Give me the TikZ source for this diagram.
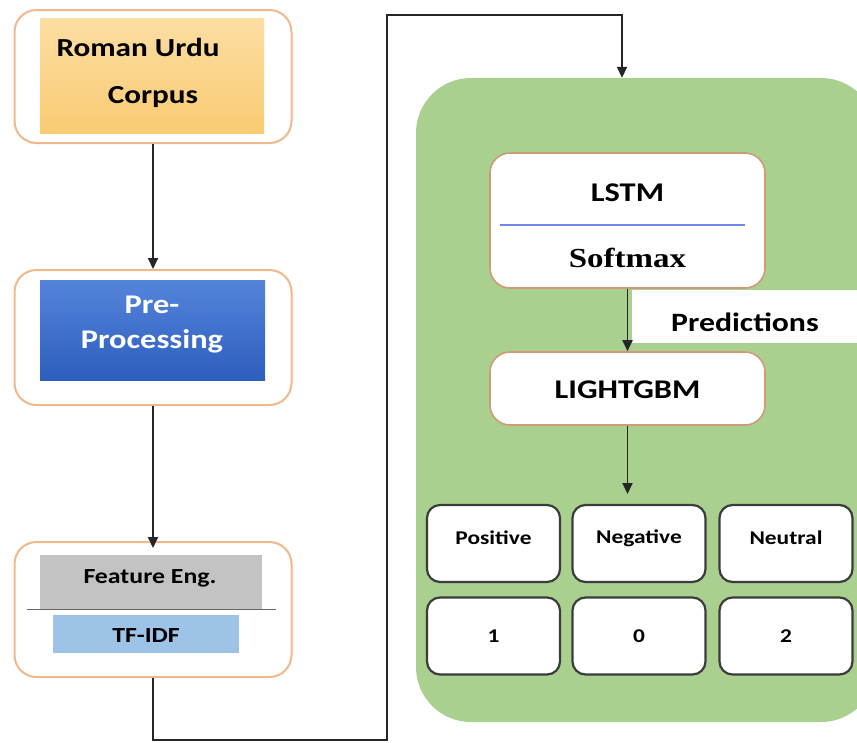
\documentclass[tikz,border=0pt]{standalone}
\usepackage{fontspec}
\usepackage{graphicx}
\setmainfont{Carlito}
\newfontfamily\serifbold{Liberation Serif}
\usetikzlibrary{arrows.meta}
\definecolor{peach}{HTML}{F1B88C}
\definecolor{corpustop}{HTML}{FCDDA3}
\definecolor{corpusbot}{HTML}{F9CB72}
\definecolor{preptop}{HTML}{5484DA}
\definecolor{prepbot}{HTML}{2E5EBE}
\definecolor{featgray}{HTML}{C3C3C3}
\definecolor{tfidfblue}{HTML}{9DC3E6}
\definecolor{panelgreen}{HTML}{A9D08E}
\definecolor{cellborder}{HTML}{3C3C3C}
\newcommand{\wtxt}[2]{\scalebox{1.2}[1]{\fontsize{#1}{#1}\selectfont\bfseries #2}}
\tikzset{
  outerbox/.style={draw=peach, line width=2pt, fill=white, rounded corners=22pt, minimum width=277pt},
  modelbox/.style={draw=peach!85!black, line width=1.6pt, fill=white, rounded corners=20pt, minimum width=275pt},
  cellbox/.style={draw=cellborder, line width=2.2pt, fill=white, rounded corners=13pt, minimum width=133pt, minimum height=77pt},
  flow/.style={line width=1.8pt, draw=black!85, -{Triangle[length=11pt,width=10pt]}},
  lbl/.style={inner sep=0pt, text=black}
}
\begin{document}
\begin{tikzpicture}[x=1pt,y=-1pt]
\useasboundingbox (0,0) rectangle (857,742);
\fill[white] (0,0) rectangle (857,742);

% left column: corpus
\node[outerbox, minimum height=133pt] (corpus) at (153,76.5) {};
\node[top color=corpustop, bottom color=corpusbot, minimum width=224pt, minimum height=115pt, inner sep=0pt] (corpusin) at (152,75.5) {};
\node[lbl] (t1) at (138,47) {\wtxt{26pt}{Roman Urdu}};
\node[lbl] (t2) at (153,97) {\wtxt{26pt}{Corpus}};

% pre-processing
\node[outerbox, minimum height=135pt] (prep) at (153,337.5) {};
\node[top color=preptop, bottom color=prepbot, minimum width=225pt, minimum height=100pt, inner sep=0pt] (prepin) at (152.5,330) {};
\node[lbl, text=white] (t3) at (152,305) {\wtxt{27pt}{Pre-}};
\node[lbl, text=white] (t4) at (152,341) {\wtxt{27pt}{Processing}};

% feature engineering
\node[outerbox, minimum height=135pt] (feat) at (153,609.5) {};
\node[fill=featgray, minimum width=222pt, minimum height=55pt, inner sep=0pt] (featin) at (151,582.5) {};
\draw[black!60, line width=1pt] (27,609) -- (276,609);
\node[fill=tfidfblue, minimum width=186pt, minimum height=38pt, inner sep=0pt] (tfidf) at (146,634) {};
\node[lbl] (t5) at (150,578) {\wtxt{21.5pt}{Feature Eng.}};
\node[lbl] (t6) at (146,636) {\wtxt{21.5pt}{TF-IDF}};

\draw[flow] (corpus.south) -- (prep.north);
\draw[flow] (prep.south) -- ([yshift=-7pt]feat.north);

% model panel
\node[fill=panelgreen, rounded corners=55pt, minimum width=460pt, minimum height=644pt, inner sep=0pt] (panel) at (646,400) {};

\node[modelbox, minimum height=135pt] (lstm) at (627.5,220.5) {};
\node[lbl] (t7) at (627.5,193) {\wtxt{27pt}{LSTM}};
\draw[color=tfidfblue!70!blue, line width=1.2pt] (500,225) -- (745,225);
\node[lbl] (t8) at (627.5,258) {\scalebox{1.2}[1]{\fontsize{27.5pt}{27.5pt}\selectfont\serifbold\bfseries Softmax}};

\node[fill=white, minimum width=225pt, minimum height=53pt, inner sep=0pt] (predbox) at (744.5,316.5) {};
\node[lbl] (t9) at (745,322) {\wtxt{26.5pt}{Predictions}};

\node[modelbox, minimum height=73pt] (gbm) at (627.5,388.5) {};
\node[lbl] (t10) at (627.5,390) {\wtxt{27pt}{LIGHTGBM}};

\coordinate (rowtop) at (627.5,494);
\draw[flow] (lstm.south) -- (gbm.north);
\draw[flow] (gbm.south) -- (rowtop);

% sentiment classes and their codes
\node[cellbox] (pos) at (493.5,543.5) {};
\node[cellbox] (neg) at (639,543.5) {};
\node[cellbox] (neu) at (786,543.5) {};
\node[cellbox] (one) at (493.5,636) {};
\node[cellbox] (zero) at (639,636) {};
\node[cellbox] (two) at (786,636) {};
\node[lbl] at (493.5,538) {\wtxt{19.5pt}{Positive}};
\node[lbl] at (639,538) {\wtxt{19.5pt}{Negative}};
\node[lbl] at (786,538) {\wtxt{19.5pt}{Neutral}};
\node[lbl] at (493.5,636) {\wtxt{19.5pt}{1}};
\node[lbl] at (639,636) {\wtxt{19.5pt}{0}};
\node[lbl] at (786,636) {\wtxt{19.5pt}{2}};

% long connector from the features into the model panel
\coordinate (c1) at (153,740);
\coordinate (c2) at (387,740);
\coordinate (c3) at (387,15);
\coordinate (c4) at (622,15);
\draw[flow] (feat.south) -- (c1) -- (c2) -- (c3) -- (c4) -- (c4 |- panel.north);
\end{tikzpicture}
\end{document}
